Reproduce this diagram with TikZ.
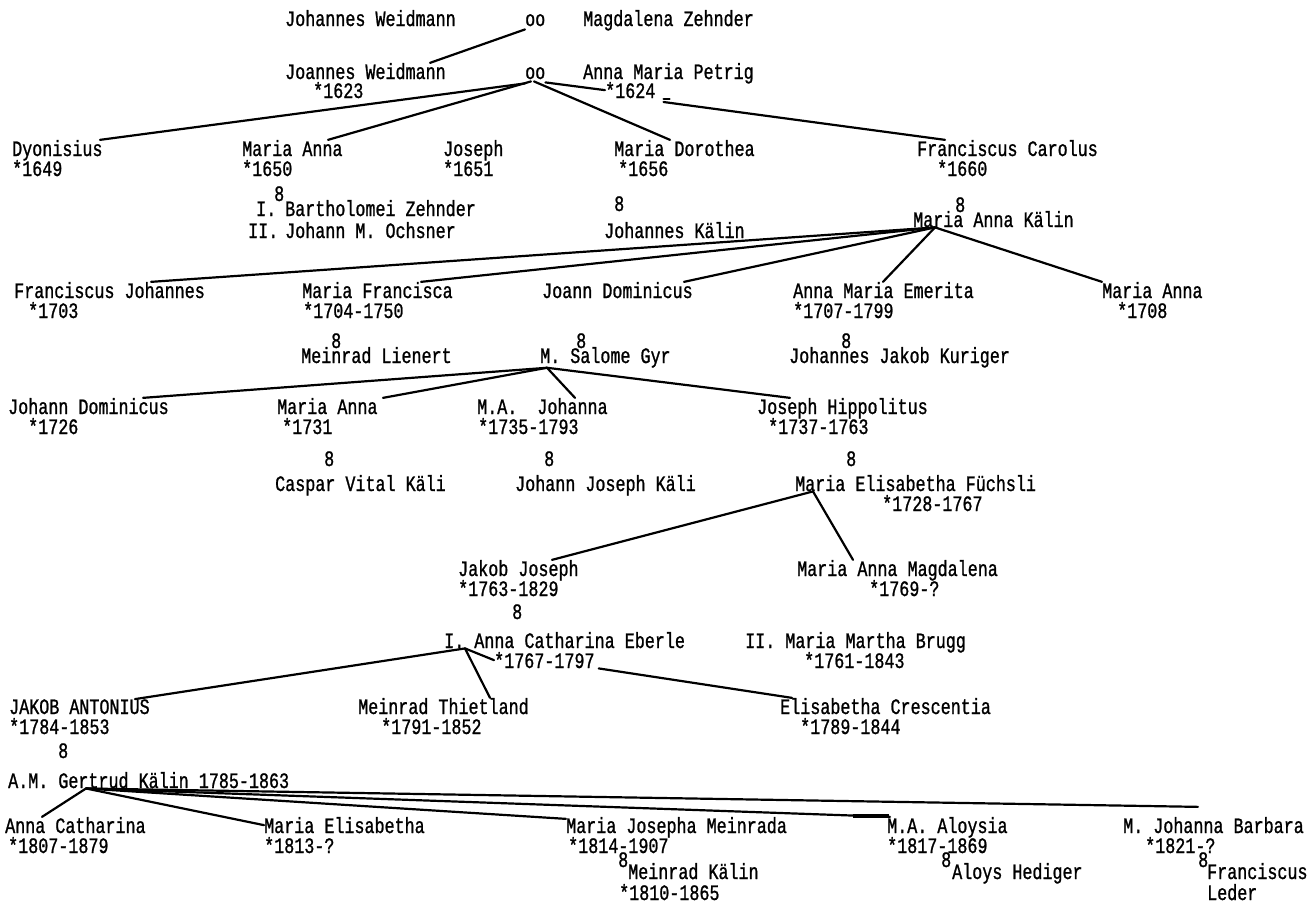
\documentclass[tikz,border=0pt]{standalone}
\usepackage{fontspec}
\setmainfont{Liberation Mono}[FakeStretch=0.76,FakeBold=1]
\usepackage{tikz}

\begin{document}
\begin{tikzpicture}[x=1pt,y=-1pt,
  every node/.style={inner sep=0pt,anchor=base west,font=\fontsize{22}{24}\selectfont},
  lnk/.style={line width=2.2pt,line cap=round}]
\fill[white] (0,0) rectangle (1308,908);
\useasboundingbox (0,0) rectangle (1308,908);

% Stammeltern
\node (jw1) at (285,26) {Johannes Weidmann};
\node (oo1) at (525,26) {oo};
\node (mz) at (583,26) {Magdalena Zehnder};
\node (jw2) at (285,79) {Joannes Weidmann};
\node (jw2y) at (313,98) {*1623};
\node (oo2) at (525,79) {oo};
\node (amp) at (583,79) {Anna Maria Petrig};
\node (ampy) at (605,98) {*1624};

% Kinder 1649-1660
\node (dy) at (12,156) {Dyonisius};
\node (dyy) at (12,176) {*1649};
\node (ma1) at (242,156) {Maria Anna};
\node (ma1y) at (242,176) {*1650};
\node (jos) at (443,156) {Joseph};
\node (josy) at (443,176) {*1651};
\node (md) at (614,156) {Maria Dorothea};
\node (mdy) at (618,176) {*1656};
\node (fc) at (917,156) {Franciscus Carolus};
\node (fcy) at (937,176) {*1660};
\node (w1) at (274,201) {8};
\node (i1) at (256,216) {I.};
\node (bz) at (285,216) {Bartholomei Zehnder};
\node (i2) at (248,238) {II.};
\node (jmo) at (285,238) {Johann M. Ochsner};
\node (w2) at (614,211) {8};
\node (jk) at (604,238) {Johannes Kälin};
\node (w3) at (955,212) {8};
\node (mak) at (913,227) {Maria Anna Kälin};

% Kinder 1703-1708
\node (fj) at (14,298) {Franciscus Johannes};
\node (fjy) at (28,318) {*1703};
\node (mf) at (302,298) {Maria Francisca};
\node (mfy) at (303,318) {*1704-1750};
\node (jd) at (542,298) {Joann Dominicus};
\node (ame) at (793,298) {Anna Maria Emerita};
\node (amey) at (793,318) {*1707-1799};
\node (ma2) at (1102,298) {Maria Anna};
\node (ma2y) at (1117,318) {*1708};
\node (w4) at (331,348) {8};
\node (ml) at (301,363) {Meinrad Lienert};
\node (w5) at (576,348) {8};
\node (msg) at (540,363) {M. Salome Gyr};
\node (w6) at (841,348) {8};
\node (jjk) at (789,363) {Johannes Jakob Kuriger};

% Kinder 1726-1737
\node (jd2) at (8,414) {Johann Dominicus};
\node (jd2y) at (28,434) {*1726};
\node (ma3) at (277,414) {Maria Anna};
\node (ma3y) at (282,434) {*1731};
\node (maj) at (477,414) {M.A.~~Johanna};
\node (majy) at (478,434) {*1735-1793};
\node (jh) at (757,414) {Joseph Hippolitus};
\node (jhy) at (768,434) {*1737-1763};
\node (w7) at (324,466) {8};
\node (cvk) at (275,491) {Caspar Vital Käli};
\node (w8) at (544,466) {8};
\node (jjk2) at (515,491) {Johann Joseph Käli};
\node (w9) at (846,466) {8};
\node (mef) at (795,491) {Maria Elisabetha Füchsli};
\node (mefy) at (882,511) {*1728-1767};

% Kinder 1763-1769
\node (jj) at (458,576) {Jakob Joseph};
\node (jjy) at (458,596) {*1763-1829};
\node (mam) at (797,576) {Maria Anna Magdalena};
\node (mamy) at (869,596) {*1769-?};
\node (w10) at (512,619) {8};
\node (ace) at (444,648) {I. Anna Catharina Eberle};
\node (acey) at (494,668) {*1767-1797};
\node (mmb) at (745,648) {II. Maria Martha Brugg};
\node (mmby) at (804,668) {*1761-1843};

% Kinder 1784-1791
\node (ja) at (9,714) {JAKOB ANTONIUS};
\node (jay) at (9,734) {*1784-1853};
\node (mt) at (358,714) {Meinrad Thietland};
\node (mty) at (381,734) {*1791-1852};
\node (ec) at (780,714) {Elisabetha Crescentia};
\node (ecy) at (800,734) {*1789-1844};
\node (w11) at (58,758) {8};
\node (gk) at (8,788) {A.M. Gertrud Kälin 1785-1863};

% Kinder 1807-1821
\node (ac) at (5,833) {Anna Catharina};
\node (acy) at (8,853) {*1807-1879};
\node (me) at (264,833) {Maria Elisabetha};
\node (mey) at (264,853) {*1813-?};
\node (mjm) at (566,833) {Maria Josepha Meinrada};
\node (mjmy) at (568,853) {*1814-1907};
\node (w12) at (618,867) {8};
\node (mk) at (628,879) {Meinrad Kälin};
\node (mky) at (619,900) {*1810-1865};
\node (maa) at (887,833) {M.A. Aloysia};
\node (maay) at (887,853) {*1817-1869};
\node (w13) at (941,867) {8};
\node (ah) at (952,879) {Aloys Hediger};
\node (mjb) at (1123,833) {M. Johanna Barbara};
\node (mjby) at (1145,853) {*1821-?};
\node (w14) at (1198,867) {8};
\node (fl1) at (1207,879) {Franciscus};
\node (fl2) at (1207,900) {Leder};

% Linien
\draw[lnk] ([yshift=-3]oo1.south west) -- ([xshift=145]jw2.north west);
\draw[lnk] ([yshift=-4]oo2.south west) -- ([xshift=88]dy.north west);
\draw[lnk] ([xshift=6,yshift=-2]oo2.south west) -- ([xshift=86]ma1.north west);
\draw[lnk] ([xshift=9,yshift=-2]oo2.south west) -- ([xshift=56]md.north west);
\draw[lnk] ([yshift=-3]oo2.south east) -- (ampy.west);
\draw[lnk] ([xshift=8,yshift=-1]ampy.base east) -- ++(6,0);
\draw[lnk] ([xshift=8,yshift=-4]ampy.base east) -- ([xshift=28]fc.north west);

\draw[lnk] ([xshift=22]mak.south west) -- ([xshift=137]fj.north west);
\draw[lnk] ([xshift=22]mak.south west) -- ([xshift=119]mf.north west);
\draw[lnk] ([xshift=22]mak.south west) -- ([xshift=142]jd.north west);
\draw[lnk] ([xshift=22]mak.south west) -- ([xshift=90]ame.north west);
\draw[lnk] ([xshift=22]mak.south west) -- (ma2.north west);

\draw[lnk] ([xshift=7]msg.south west) -- ([xshift=135]jd2.north west);
\draw[lnk] ([xshift=7]msg.south west) -- ([xshift=106]ma3.north west);
\draw[lnk] ([xshift=7]msg.south west) -- ([xshift=98]maj.north west);
\draw[lnk] ([xshift=7]msg.south west) -- ([xshift=33]jh.north west);

\draw[lnk] ([xshift=18]mef.south west) -- ([xshift=94]jj.north west);
\draw[lnk] ([xshift=18]mef.south west) -- ([xshift=56]mam.north west);

\draw[lnk] ([xshift=21]ace.south west) -- ([xshift=126]ja.north west);
\draw[lnk] ([xshift=21]ace.south west) -- ([xshift=132]mt.north west);
\draw[lnk] ([xshift=21]ace.south west) -- (acey.west);
\draw[lnk] ([xshift=4]acey.south east) -- ([xshift=12]ec.north west);

\draw[lnk] ([xshift=78]gk.south west) -- ([xshift=37]ac.north west);
\draw[lnk] ([xshift=78]gk.south west) -- (me.west);
\draw[lnk] ([xshift=78]gk.south west) -- ([yshift=-2]mjm.north west);
\draw[lnk] ([xshift=78]gk.south west) -- ([xshift=3]maa.north west);
\draw[line width=4pt] ([xshift=-34,yshift=1]maa.north west) -- ([xshift=2,yshift=1]maa.north west);
\draw[lnk] ([xshift=78]gk.south west) -- ([xshift=75,yshift=10]mjb.north west);
\end{tikzpicture}
\end{document}
